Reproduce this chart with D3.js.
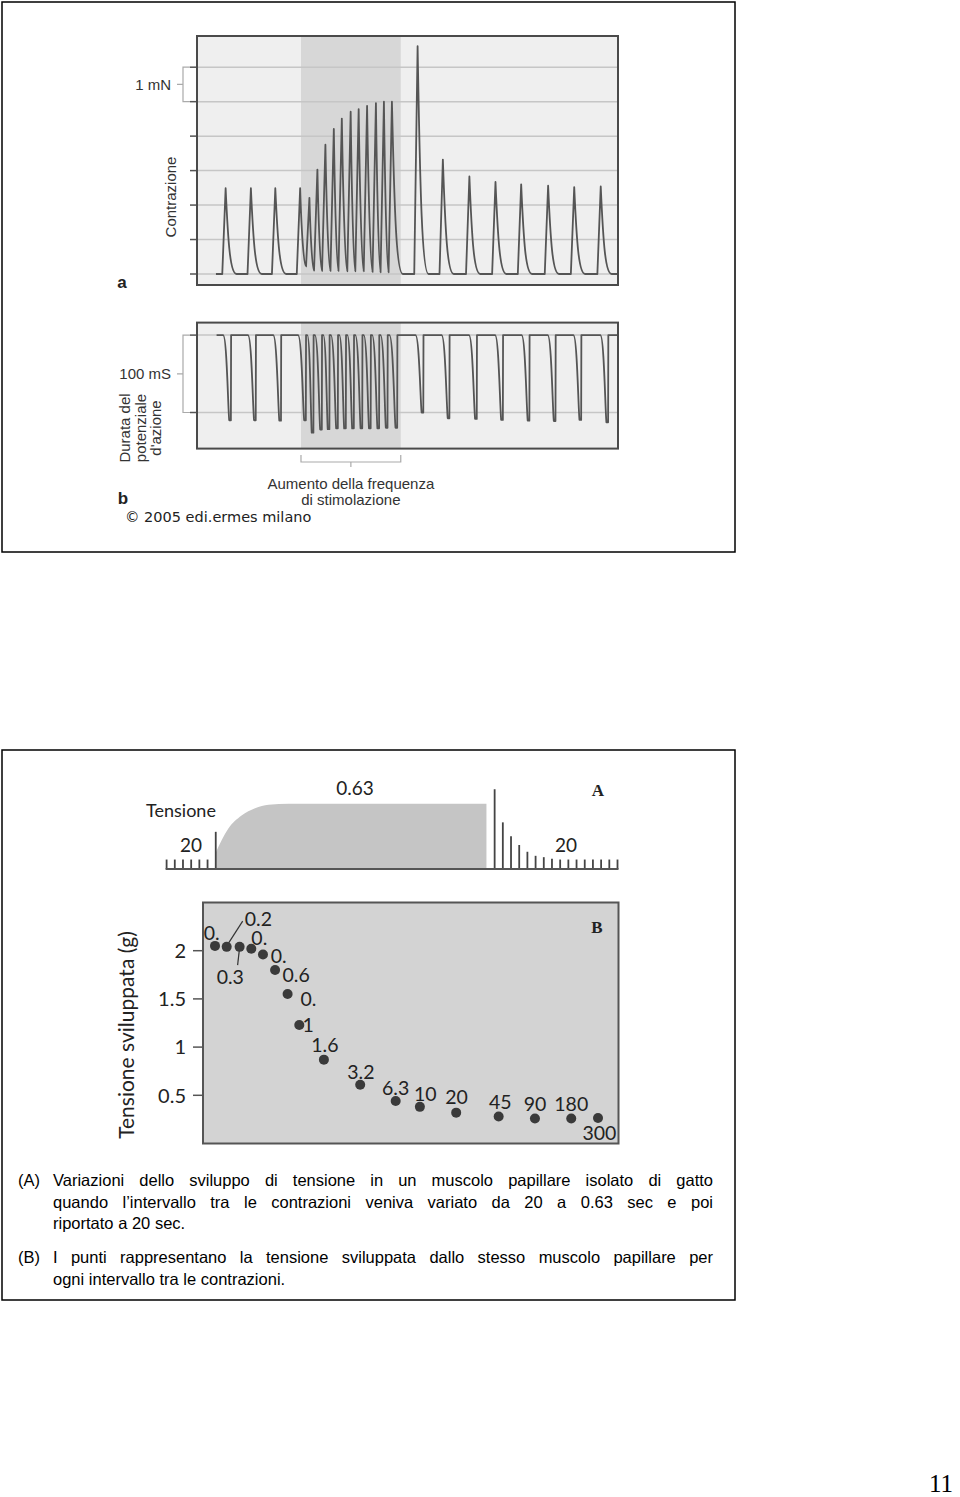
<!DOCTYPE html>
<html>
<head>
<meta charset="utf-8">
<script src="https://cdn.jsdelivr.net/npm/d3@7"></script>
<style>
body { margin: 0; background: #fff; }
svg { display: block; }
</style>
</head>
<body>
<svg id="page" width="960" height="1497"></svg>
<script>
// ---- panel a: contraction trace (mN above rest), time as % of record ----
var twitchTimes = [6.8, 12.8, 18.6, 24.5, 26.7, 28.6, 30.5, 32.5, 34.4, 36.5, 38.4, 40.4, 42.5, 44.4, 46.3,
                   52.4, 58.4, 64.7, 70.9, 77.0, 83.4, 89.6, 95.9];
var twitchPeaks = [2.49, 2.49, 2.49, 2.49, 2.21, 3.03, 3.75, 4.21, 4.51, 4.71, 4.78, 4.88, 4.96, 5.0, 5.0,
                   6.61, 3.32, 2.83, 2.67, 2.6, 2.56, 2.52, 2.54];
var twitchTroughs = [0, 0, 0, 0.22, 0.1, 0.09, 0.09, 0.09, 0.08, 0.08, 0.08, 0.06, 0.05, 0.05, 0,
                     0, 0, 0, 0, 0, 0, 0, 0];
var contractionGrid = [0, 1, 2, 3, 4, 5, 6];

// ---- panel b: action potential duration trace (ms below plateau) ----
var apUpstrokes = [8.1, 14.0, 20.0, 25.9, 27.7, 29.7, 31.5, 33.5, 35.4, 37.3, 39.3, 41.3, 43.3, 45.3, 47.6,
                   53.8, 60.0, 66.5, 72.7, 79.0, 85.2, 91.3, 97.7];
var apDepths = [110, 110, 110.5, 110, 126, 122, 121.5, 120.5, 120.5, 120.5, 120.5, 120.5, 120.5, 119.7, 119.7,
                100, 107.4, 108.3, 109.6, 110.5, 111, 109.6, 112.7];
var apGrid = [0, -100];
var stimWindow = [24.7, 48.4];

// ---- panel A: tension record, time in s ----
var restBeatTimes = [0, 20, 40, 60, 80, 100, 120];
var restBeatTension = [0.28, 0.28, 0.28, 0.28, 0.28, 0.28, 1.10];
var fastTimes = [120, 150, 183, 216, 249, 299, 781];
var fastTension = [0.48, 1.18, 1.58, 1.80, 1.90, 1.93, 1.93];
var recoveryBeatTimes = [801, 821, 841, 861, 881, 901, 921, 941, 961, 981, 1001, 1021, 1041, 1061, 1081, 1101];
var recoveryBeatTension = [2.36, 1.38, 0.97, 0.71, 0.51, 0.39, 0.35, 0.30, 0.28, 0.28, 0.28, 0.28, 0.28, 0.28, 0.28, 0.28];

// ---- panel B: developed tension vs interval ----
var intervals = [0.2, 0.25, 0.32, 0.4, 0.5, 0.63, 0.8, 1, 1.6, 3.2, 6.3, 10, 20, 45, 90, 180, 300];
var developed = [2.05, 2.04, 2.04, 2.02, 1.96, 1.80, 1.55, 1.23, 0.87, 0.61, 0.44, 0.38, 0.32, 0.28, 0.26, 0.26, 0.265];
var pointLabels = ["0.", "0.2", "0.3", "0.", "0.", "0.6", "0.", "1", "1.6", "3.2", "6.3", "10", "20", "45", "90", "180", "300"];
var tensionTicks = [0.5, 1, 1.5, 2];

// label placement (px from the dot)
var labelOffsets = [[-3.3, -13.3], [31.7, -27.4], [-9.3, 30], [8, -11], [15.6, 1.7], [21, 5], [20.8, 5], [8.8, 0.3],
                    [1, -14.5], [0.7, -12.5], [0, -12.8], [5.4, -12.8], [0.3, -15.2], [1.7, -14.5], [0, -14.9], [0, -14.2], [1.4, 15.2]];
var leaders = [{i: 1, from: [2, -4], to: [16, -25.7]}, {i: 2, from: [-0.3, 3.3], to: [-2, 18.3]}];

var svg = d3.select("#page");
var sans = "'Liberation Sans', Arial, sans-serif";
var geo = "Lato, 'Open Sans', sans-serif";

// slide frames
svg.append("rect").attr("x", 2).attr("y", 2).attr("width", 733).attr("height", 550)
    .attr("fill", "none").attr("stroke", "#000").attr("stroke-width", 1.5);
svg.append("rect").attr("x", 2).attr("y", 750).attr("width", 733).attr("height", 550)
    .attr("fill", "none").attr("stroke", "#000").attr("stroke-width", 1.5);

drawPanelA();
drawPanelB();
drawTensionRecord();
drawIntervalPlot();
drawCaption();

svg.append("text").attr("x", 953).attr("y", 1492).attr("text-anchor", "end")
    .attr("font-family", "'Liberation Serif', serif").attr("font-size", 25).text("11");

function drawPanelA () {
    var xa = d3.scaleLinear().domain([0, 100]).range([197, 618]),
        ya = d3.scaleLinear().domain([0, 6]).range([274, 67.2]);
    var g = svg.append("g");

    g.append("rect").attr("x", 197).attr("y", 36).attr("width", 421).attr("height", 249)
        .attr("fill", "#efefef");
    g.append("rect").attr("x", xa(stimWindow[0])).attr("y", 36)
        .attr("width", xa(stimWindow[1]) - xa(stimWindow[0])).attr("height", 249)
        .attr("fill", "#d7d7d7");
    g.selectAll(".grid").data(contractionGrid).enter()
        .append("line").attr("class", "grid")
            .attr("x1", 197).attr("x2", 618)
            .attr("y1", function(d) { return ya(d); })
            .attr("y2", function(d) { return ya(d); })
            .attr("stroke", "#c6c6c6").attr("stroke-width", 1.5);
    g.selectAll(".tick").data(contractionGrid).enter()
        .append("line").attr("class", "tick")
            .attr("x1", 190).attr("x2", 197)
            .attr("y1", function(d) { return ya(d); })
            .attr("y2", function(d) { return ya(d); })
            .attr("stroke", "#555").attr("stroke-width", 1.5);

    var p = d3.path(), rise = 0.8;
    p.moveTo(xa(4.5), ya(0));
    twitchTimes.forEach(function(t, i) {
        var h = twitchPeaks[i];
        if (i == 0 || twitchTroughs[i - 1] == 0) p.lineTo(xa(t - rise), ya(0));
        p.lineTo(xa(t), ya(h));
        var tr = twitchTroughs[i];
        if (tr > 0) {
            var r = twitchTimes[i + 1] - rise;
            p.bezierCurveTo(xa(t + 0.3 * (r - t)), ya(0.35 * h), xa(r - 0.3 * (r - t)), ya(tr), xa(r), ya(tr));
        } else {
            p.bezierCurveTo(xa(t + 0.6), ya(0.35 * h), xa(t + 1.1), ya(0), xa(t + 2.6), ya(0));
        }
    });
    p.lineTo(xa(100), ya(0));
    g.append("path").attr("d", p.toString())
        .attr("fill", "none").attr("stroke", "#555").attr("stroke-width", 1.8)
        .attr("stroke-linejoin", "round");

    g.append("rect").attr("x", 197).attr("y", 36).attr("width", 421).attr("height", 249)
        .attr("fill", "none").attr("stroke", "#4a4a4a").attr("stroke-width", 2);

    // 1 mN bracket
    g.append("path")
        .attr("d", "M190," + ya(6) + "H183V" + ya(5) + "H190M183," + ya(5.5) + "H177")
        .attr("fill", "none").attr("stroke", "#aaa").attr("stroke-width", 1.2);
    g.append("text").attr("x", 171).attr("y", ya(5.5)).attr("dy", "0.35em")
        .attr("text-anchor", "end").attr("font-family", sans).attr("font-size", 15).attr("fill", "#333")
        .text("1 mN");
    g.append("text").attr("transform", "translate(176,197) rotate(-90)")
        .attr("text-anchor", "middle").attr("font-family", sans).attr("font-size", 15).attr("fill", "#333")
        .text("Contrazione");
    g.append("text").attr("x", 122).attr("y", 288)
        .attr("text-anchor", "middle").attr("font-family", sans).attr("font-weight", "bold")
        .attr("font-size", 17).attr("fill", "#222").text("a");
}

function drawPanelB () {
    var xb = d3.scaleLinear().domain([0, 100]).range([197, 618]),
        yb = d3.scaleLinear().domain([0, -100]).range([335.1, 412.5]);
    var g = svg.append("g");

    g.append("rect").attr("x", 197).attr("y", 322.6).attr("width", 421).attr("height", 126)
        .attr("fill", "#efefef");
    g.append("rect").attr("x", xb(stimWindow[0])).attr("y", 322.6)
        .attr("width", xb(stimWindow[1]) - xb(stimWindow[0])).attr("height", 126)
        .attr("fill", "#d7d7d7");
    g.selectAll(".grid").data(apGrid).enter()
        .append("line").attr("class", "grid")
            .attr("x1", 197).attr("x2", 618)
            .attr("y1", function(d) { return yb(d); })
            .attr("y2", function(d) { return yb(d); })
            .attr("stroke", "#c6c6c6").attr("stroke-width", 1.5);
    g.selectAll(".tick").data(apGrid).enter()
        .append("line").attr("class", "tick")
            .attr("x1", 190).attr("x2", 197)
            .attr("y1", function(d) { return yb(d); })
            .attr("y2", function(d) { return yb(d); })
            .attr("stroke", "#555").attr("stroke-width", 1.5);

    var q = d3.path(), prevUp = 4.65;
    q.moveTo(xb(prevUp), yb(0));
    apUpstrokes.forEach(function(u, i) {
        var d = -apDepths[i],
            fs = Math.max(prevUp + 0.3, u - 1.9),
            bt = u - 0.45,
            w = bt - fs;
        q.lineTo(xb(fs), yb(0));
        q.bezierCurveTo(xb(fs + 0.6 * w), yb(0), xb(fs + 0.8 * w), yb(0.85 * d), xb(bt), yb(d));
        q.lineTo(xb(u - 0.05), yb(d));
        q.lineTo(xb(u), yb(0));
        prevUp = u;
    });
    q.lineTo(xb(100), yb(0));
    g.append("path").attr("d", q.toString())
        .attr("fill", "none").attr("stroke", "#555").attr("stroke-width", 1.8)
        .attr("stroke-linejoin", "round");

    g.append("rect").attr("x", 197).attr("y", 322.6).attr("width", 421).attr("height", 126)
        .attr("fill", "none").attr("stroke", "#4a4a4a").attr("stroke-width", 2);

    g.append("path")
        .attr("d", "M190," + yb(0) + "H183V" + yb(-100) + "H190M183," + yb(-50) + "H177")
        .attr("fill", "none").attr("stroke", "#aaa").attr("stroke-width", 1.2);
    g.append("text").attr("x", 171).attr("y", yb(-50)).attr("dy", "0.35em")
        .attr("text-anchor", "end").attr("font-family", sans).attr("font-size", 15).attr("fill", "#333")
        .text("100 mS");
    [["Durata del", 130], ["potenziale", 146], ["d'azione", 161]].forEach(function(l) {
        g.append("text").attr("transform", "translate(" + l[1] + ",428) rotate(-90)")
            .attr("text-anchor", "middle").attr("font-family", sans).attr("font-size", 15).attr("fill", "#333")
            .text(l[0]);
    });

    // stimulation bracket
    var x0 = xb(stimWindow[0]), x1 = xb(stimWindow[1]), xm = (x0 + x1) / 2;
    g.append("path")
        .attr("d", "M" + x0 + ",455V462H" + x1 + "V455M" + xm + ",462V467")
        .attr("fill", "none").attr("stroke", "#aaa").attr("stroke-width", 1.2);
    g.append("text").attr("x", xm).attr("y", 489).attr("text-anchor", "middle")
        .attr("font-family", sans).attr("font-size", 15).attr("fill", "#333").text("Aumento della frequenza");
    g.append("text").attr("x", xm).attr("y", 505).attr("text-anchor", "middle")
        .attr("font-family", sans).attr("font-size", 15).attr("fill", "#333").text("di stimolazione");
    g.append("text").attr("x", 123).attr("y", 504)
        .attr("text-anchor", "middle").attr("font-family", sans).attr("font-weight", "bold")
        .attr("font-size", 17).attr("fill", "#222").text("b");
    g.append("text").attr("x", 125).attr("y", 522)
        .attr("font-family", "'DejaVu Sans', sans-serif").attr("font-size", 14.5).attr("fill", "#222")
        .text("\u00a9 2005 edi.ermes milano");
}

function drawTensionRecord () {
    var xA = d3.scaleLinear().domain([0, 1101]).range([166.6, 617.5]),
        yA = d3.scaleLinear().domain([0, 1]).range([869, 835.2]);
    var g = svg.append("g");

    var fast = fastTimes.map(function(t, i) { return {t: t, v: fastTension[i]}; });
    var area = d3.area()
        .x(function(d) { return xA(d.t); })
        .y0(yA(0))
        .y1(function(d) { return yA(d.v); })
        .curve(d3.curveMonotoneX);
    g.append("path").attr("d", area(fast)).attr("fill", "#c5c5c5");

    var beats = restBeatTimes.map(function(t, i) { return {t: t, v: restBeatTension[i]}; })
        .concat(recoveryBeatTimes.map(function(t, i) { return {t: t, v: recoveryBeatTension[i]}; }));
    g.selectAll(".beat").data(beats).enter()
        .append("line").attr("class", "beat")
            .attr("x1", function(d) { return xA(d.t); })
            .attr("x2", function(d) { return xA(d.t); })
            .attr("y1", yA(0))
            .attr("y2", function(d) { return yA(d.v); })
            .attr("stroke", "#444").attr("stroke-width", 1.8);
    g.append("line").attr("x1", xA(0) - 1).attr("x2", xA(1101) + 1)
        .attr("y1", yA(0)).attr("y2", yA(0))
        .attr("stroke", "#555").attr("stroke-width", 2);

    g.append("text").attr("x", 181).attr("y", 817).attr("text-anchor", "middle")
        .attr("font-family", geo).attr("font-size", 18).attr("fill", "#222").text("Tensione");
    g.append("text").attr("x", 191).attr("y", 852).attr("text-anchor", "middle")
        .attr("font-family", geo).attr("font-size", 19).attr("fill", "#222").text("20");
    g.append("text").attr("x", 355).attr("y", 795).attr("text-anchor", "middle")
        .attr("font-family", geo).attr("font-size", 19).attr("fill", "#222").text("0.63");
    g.append("text").attr("x", 566).attr("y", 852).attr("text-anchor", "middle")
        .attr("font-family", geo).attr("font-size", 19).attr("fill", "#222").text("20");
    g.append("text").attr("x", 598).attr("y", 796).attr("text-anchor", "middle")
        .attr("font-family", "'Liberation Serif', serif").attr("font-weight", "bold")
        .attr("font-size", 17).attr("fill", "#222").text("A");
}

function drawIntervalPlot () {
    var xB = d3.scaleLog().domain([0.2, 300]).range([215, 598]),
        yB = d3.scaleLinear().domain([0, 2.5]).range([1143.5, 902.5]);
    var g = svg.append("g");

    g.append("rect").attr("x", 203).attr("y", 902.5).attr("width", 415.5).attr("height", 241)
        .attr("fill", "#d3d3d3").attr("stroke", "#555").attr("stroke-width", 2);
    g.selectAll(".tick").data(tensionTicks).enter()
        .append("line").attr("class", "tick")
            .attr("x1", 193).attr("x2", 203)
            .attr("y1", function(d) { return yB(d); })
            .attr("y2", function(d) { return yB(d); })
            .attr("stroke", "#555").attr("stroke-width", 1.5);
    g.selectAll(".ticklabel").data(tensionTicks).enter()
        .append("text").attr("class", "ticklabel")
            .attr("x", 186)
            .attr("y", function(d) { return yB(d); })
            .attr("dy", "0.36em").attr("text-anchor", "end")
            .attr("font-family", geo).attr("font-size", 20).attr("fill", "#222")
            .text(function(d) { return d; });
    g.append("text").attr("transform", "translate(134,1035) rotate(-90)")
        .attr("text-anchor", "middle").attr("font-family", geo).attr("font-size", 21).attr("fill", "#222")
        .text("Tensione sviluppata (g)");

    var pts = intervals.map(function(t, i) { return {t: t, v: developed[i], label: pointLabels[i], off: labelOffsets[i]}; });
    leaders.forEach(function(l) {
        var d = pts[l.i];
        g.append("line")
            .attr("x1", xB(d.t) + l.from[0]).attr("y1", yB(d.v) + l.from[1])
            .attr("x2", xB(d.t) + l.to[0]).attr("y2", yB(d.v) + l.to[1])
            .attr("stroke", "#333").attr("stroke-width", 1.2);
    });
    g.selectAll(".dot").data(pts).enter()
        .append("circle").attr("class", "dot")
            .attr("cx", function(d) { return xB(d.t); })
            .attr("cy", function(d) { return yB(d.v); })
            .attr("r", 5)
            .attr("fill", "#3a3a3a");
    g.selectAll(".plabel").data(pts).enter()
        .append("text").attr("class", "plabel")
            .attr("x", function(d) { return xB(d.t) + d.off[0]; })
            .attr("y", function(d) { return yB(d.v) + d.off[1]; })
            .attr("dy", "0.36em").attr("text-anchor", "middle")
            .attr("font-family", geo).attr("font-size", 19.5).attr("fill", "#222")
            .text(function(d) { return d.label; });
    g.append("text").attr("x", 597).attr("y", 933).attr("text-anchor", "middle")
        .attr("font-family", "'Liberation Serif', serif").attr("font-weight", "bold")
        .attr("font-size", 17).attr("fill", "#222").text("B");
}

function drawCaption () {
    var g = svg.append("g").attr("font-family", sans).attr("font-size", 16.5).attr("fill", "#000");
    var lines = [
        {tag: "(A)", y: 1186, just: true, text: "Variazioni dello sviluppo di tensione in un muscolo papillare isolato di gatto"},
        {y: 1207.5, just: true, text: "quando l\u2019intervallo tra le contrazioni veniva variato da 20 a 0.63 sec e poi"},
        {y: 1229, just: false, text: "riportato a 20 sec."},
        {tag: "(B)", y: 1263, just: true, text: "I punti rappresentano la tensione sviluppata dallo stesso muscolo papillare per"},
        {y: 1284.5, just: false, text: "ogni intervallo tra le contrazioni."}
    ];
    var x0 = 53, x1 = 713;
    lines.forEach(function(l) {
        if (l.tag) g.append("text").attr("x", 18).attr("y", l.y).text(l.tag);
        var words = l.text.split(" ");
        var nodes = words.map(function(w) { return g.append("text").attr("y", l.y).text(w); });
        var widths = nodes.map(function(n) { return n.node().getComputedTextLength(); });
        var gap = l.just ? (x1 - x0 - d3.sum(widths)) / (words.length - 1) : 4.6;
        var x = x0;
        nodes.forEach(function(n, i) {
            n.attr("x", x);
            x += widths[i] + gap;
        });
    });
}
</script>
</body>
</html>
